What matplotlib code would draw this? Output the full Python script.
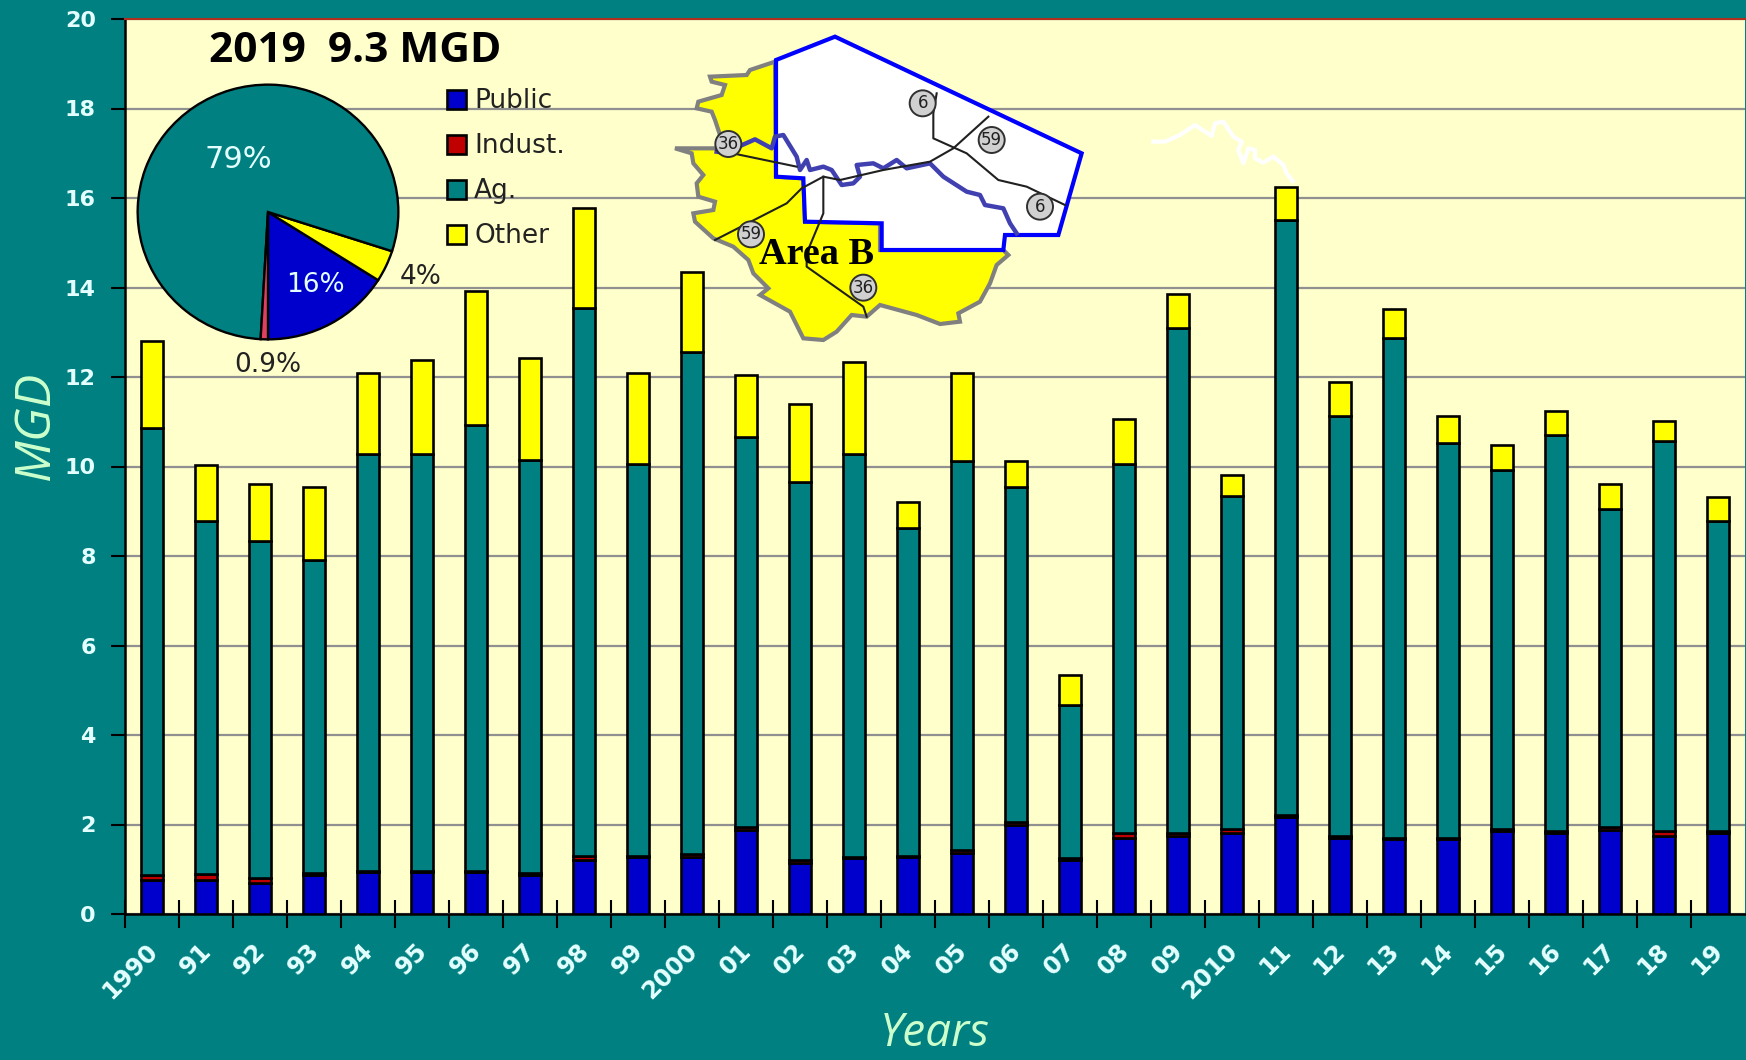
import numpy as np
import matplotlib
matplotlib.use('Agg')
import matplotlib.pyplot as plt
from matplotlib.patches import Polygon, Ellipse
from matplotlib.transforms import ScaledTranslation

years = ['1990', '91', '92', '93', '94', '95', '96', '97', '98', '99',
         '2000', '01', '02', '03', '04', '05', '06', '07', '08', '09',
         '2010', '11', '12', '13', '14', '15', '16', '17', '18', '19']
public = [.77, .75, .70, .87, .93, .93, .93, .87, 1.20, 1.27,
          1.27, 1.87, 1.15, 1.25, 1.27, 1.37, 2.00, 1.20, 1.70, 1.75,
          1.80, 2.17, 1.70, 1.67, 1.67, 1.85, 1.80, 1.87, 1.75, 1.80]
indust = [.10, .15, .10, .05, .04, .04, .04, .05, .10, .03,
          .08, .08, .05, .02, .03, .05, .05, .05, .10, .05,
          .10, .05, .05, .03, .03, .05, .05, .08, .10, .05]
ag = [9.98, 7.88, 7.53, 6.98, 9.30, 9.30, 9.95, 9.23, 12.25, 8.75,
      11.20, 8.70, 8.45, 9.00, 7.32, 8.71, 7.50, 3.42, 8.25, 11.30,
      7.43, 13.28, 9.38, 11.18, 8.83, 8.03, 8.85, 7.10, 8.73, 6.93]
other = [1.95, 1.25, 1.27, 1.65, 1.83, 2.11, 3.00, 2.28, 2.23, 2.05,
         1.80, 1.40, 1.75, 2.06, .58, 1.97, .58, .66, 1.02, .75,
         .47, .75, .75, .64, .60, .54, .55, .55, .44, .54]

# 2019 shares, in the order they go round the pie
pie_values = [16, 4, 79, 0.9]

TEAL = '#008080'
CREAM = '#FFFFCC'
BLUE = '#0000CC'
RED = '#C00000'
YELLOW = '#FFFF00'
PALE = '#E4FFFF'
W, H = 1746, 1060

# map outlines, in pixels of a crop starting at (650, 20), 3x
yellow_area = [(375, 125), (300, 150), (290, 165), (180, 170), (185, 185), (225, 195), (215, 225),
               (145, 245), (140, 265), (185, 275), (195, 300), (210, 345), (200, 385), (75, 385),
               (125, 400), (130, 430), (160, 465), (140, 490), (145, 530), (195, 545), (190, 570),
               (130, 580), (135, 605), (190, 655), (250, 680), (295, 720), (310, 760), (355, 805),
               (330, 825), (420, 875), (460, 955), (520, 960), (560, 935), (605, 885), (650, 890),
               (690, 855), (800, 885), (870, 912), (930, 905), (925, 880), (990, 845), (1020, 790),
               (1040, 735), (1075, 705), (1060, 690), (690, 690), (690, 610), (465, 605), (460, 475),
               (378, 470)]
white_area = [(378, 120), (555, 50), (1295, 400), (1225, 645), (1065, 645), (1060, 690), (695, 690),
              (695, 610), (465, 605), (460, 475), (378, 470)]
river = [(200, 395), (235, 400), (270, 378), (315, 358), (365, 385), (375, 350), (400, 345), (440, 410),
         (450, 450), (470, 420), (480, 450), (520, 440), (545, 450), (575, 495), (610, 490), (630, 470),
         (620, 435), (670, 430), (700, 445), (740, 420), (770, 445), (840, 430), (880, 470), (950, 515),
         (990, 525), (1005, 555), (1060, 565), (1080, 610), (1100, 640)]
roads = [
    [(860, 220), (850, 280), (850, 355), (950, 400), (1045, 480), (1130, 500), (1245, 555)],
    [(1015, 290), (910, 385), (840, 425), (700, 450), (570, 480), (520, 470), (455, 505), (410, 550), (195, 660)],
    [(520, 470), (520, 580), (470, 700), (470, 740), (640, 860), (650, 890)],
    [(200, 390), (440, 440)],
]
badges = [(818, 250, '6'), (1025, 360, '59'), (1170, 560, '6'),
          (235, 372, '36'), (303, 643, '59'), (640, 803, '36')]
# white river stub above the 2011 bar, crop starting at (1100, 100), 3x
white_river = [(160, 125), (195, 125), (240, 105), (285, 75), (335, 108), (345, 70), (370, 65), (400, 110),
               (425, 125), (415, 150), (430, 190), (445, 145), (465, 150), (465, 175), (490, 188),
               (520, 170), (550, 195), (560, 220), (578, 243)]


def crop_xy(points, x0=650, y0=20):
    """ crop coordinates to figure pixels """
    return [(x0 + x / 3, y0 + y / 3) for x, y in points]


def px_axes(fig, left, top, right, bottom):
    return fig.add_axes([left / W, 1 - bottom / H, (right - left) / W, (bottom - top) / H])


def draw_bars(fig):
    ax = px_axes(fig, 125, 19, 1745, 914)
    ax.set_facecolor(CREAM)
    x = np.arange(len(years)) + 0.5
    edge = dict(width=0.41, edgecolor='black', linewidth=1.9, zorder=3)
    bottom = np.zeros(len(years))
    handles = []
    for values, color, label in [(public, BLUE, 'Public'), (indust, RED, 'Indust.'),
                                 (ag, TEAL, 'Ag.'), (other, YELLOW, 'Other')]:
        handles.append(ax.bar(x, values, bottom=bottom, color=color, label=label, **edge))
        bottom = bottom + np.array(values)

    ax.set_xlim(0, len(years))
    ax.set_ylim(0, 20)
    ax.set_yticks(range(0, 21, 2))
    ax.set_xticks(range(len(years)))
    ax.set_xticks(x, minor=True)
    ax.set_xticklabels([])
    ax.set_xticklabels(years, minor=True, rotation=45, ha='right', rotation_mode='anchor',
                       fontsize=17.5, fontweight='bold', color=PALE, family='DejaVu Sans')
    ax.tick_params(axis='x', which='major', direction='inout', length=20, width=1.5)
    ax.tick_params(axis='x', which='minor', length=0, pad=18)
    ax.tick_params(axis='y', direction='out', length=10, width=1.5, pad=11)
    shift = ScaledTranslation(-7 / 100, 0, fig.dpi_scale_trans)
    for lab in ax.get_xticklabels(minor=True):
        lab.set_transform(lab.get_transform() + shift)
    for lab in ax.get_yticklabels():
        lab.set(fontsize=16, fontweight='bold', color=PALE, family='DejaVu Sans')
    ax.grid(axis='y', color='#909090', linewidth=1.6, zorder=0)
    ax.set_axisbelow(True)
    for side in ['left', 'bottom']:
        ax.spines[side].set_linewidth(1.8)
    ax.spines['top'].set_color('#B03020')
    ax.spines['top'].set_linewidth(1.5)
    ax.spines['right'].set_visible(False)

    leg = ax.legend(handles=handles, loc='upper left', bbox_to_anchor=(0.1985, 0.9225), frameon=False,
                    labelspacing=0.72, handlelength=0.74, handleheight=0.74,
                    handletextpad=0.3, borderpad=0, borderaxespad=0,
                    prop={'family': 'DejaVu Sans', 'size': 19})
    leg.set_zorder(6)
    for t in leg.get_texts():
        t.set_color('#222222')
    return ax


def draw_pie(fig):
    ax = px_axes(fig, 137, 84, 399, 340)
    ax.patch.set_alpha(0)
    ax.pie(pie_values, colors=[BLUE, YELLOW, TEAL, '#E04060'], startangle=270, radius=1,
           wedgeprops=dict(edgecolor='black', linewidth=1.7))
    ax.set_xlim(-1.005, 1.005)
    ax.set_ylim(-1.005, 1.005)
    ax.set_aspect('auto')


def draw_map(ov):
    ov.add_patch(Polygon(crop_xy(yellow_area), closed=True, facecolor=YELLOW, edgecolor='#808080',
                         linewidth=3, zorder=2))
    ov.add_patch(Polygon(crop_xy(white_area), closed=True, facecolor='white', edgecolor='#0000FF',
                         linewidth=3, joinstyle='miter', zorder=3))
    xy = np.array(crop_xy(river))
    ov.plot(xy[:, 0], xy[:, 1], color='#4040B0', linewidth=3.2, zorder=4)
    for road in roads:
        xy = np.array(crop_xy(road))
        ov.plot(xy[:, 0], xy[:, 1], color='#202020', linewidth=1.5, zorder=5)
    for x, y, name in badges:
        (px, py), = crop_xy([(x, y)])
        ov.add_patch(Ellipse((px, py), 26, 26, facecolor='#D0D0D0', edgecolor='#303030',
                             linewidth=1.4, zorder=6))
        ov.text(px, py, name, ha='center', va='center', fontsize=12, color='#202020', zorder=7)
    ov.text(817, 254, 'Area B', ha='center', va='center', fontsize=27.5, fontweight='bold',
            family='Liberation Serif', color='black', zorder=8)
    xy = np.array(crop_xy(white_river, 1100, 100))
    ov.plot(xy[:, 0], xy[:, 1], color='white', linewidth=3, zorder=2)


def main():
    fig = plt.figure(figsize=(W / 100, H / 100), dpi=100, facecolor=TEAL)
    draw_bars(fig)
    draw_pie(fig)

    ov = fig.add_axes([0, 0, 1, 1])
    ov.set_xlim(0, W)
    ov.set_ylim(H, 0)
    ov.axis('off')
    ov.patch.set_alpha(0)
    draw_map(ov)

    font = dict(family='DejaVu Sans', ha='center', va='center')
    ov.text(355, 52, '2019  9.3 MGD', fontsize=30.5, fontweight='bold', color='black',
            family='Open Sans', ha='center', va='center')
    ov.text(238, 160, '79%', fontsize=22, color=PALE, **font)
    ov.text(315, 285, '16%', fontsize=19, color=PALE, **font)
    ov.text(421, 277, '4%', fontsize=19, color='#222222', **font)
    ov.text(268, 365, '0.9%', fontsize=19, color='#222222', **font)
    ov.text(36, 425, 'MGD', fontsize=36, style='italic', color='#CCFFCC', rotation=90,
            family='Open Sans', ha='center', va='center')
    ov.text(935, 1034, 'Years', fontsize=33, style='italic', color='#CCFFCC',
            family='Open Sans', ha='center', va='center')

    fig.savefig('out.png', dpi=100, facecolor=TEAL)
    plt.close(fig)


if __name__ == "__main__":
    main()
